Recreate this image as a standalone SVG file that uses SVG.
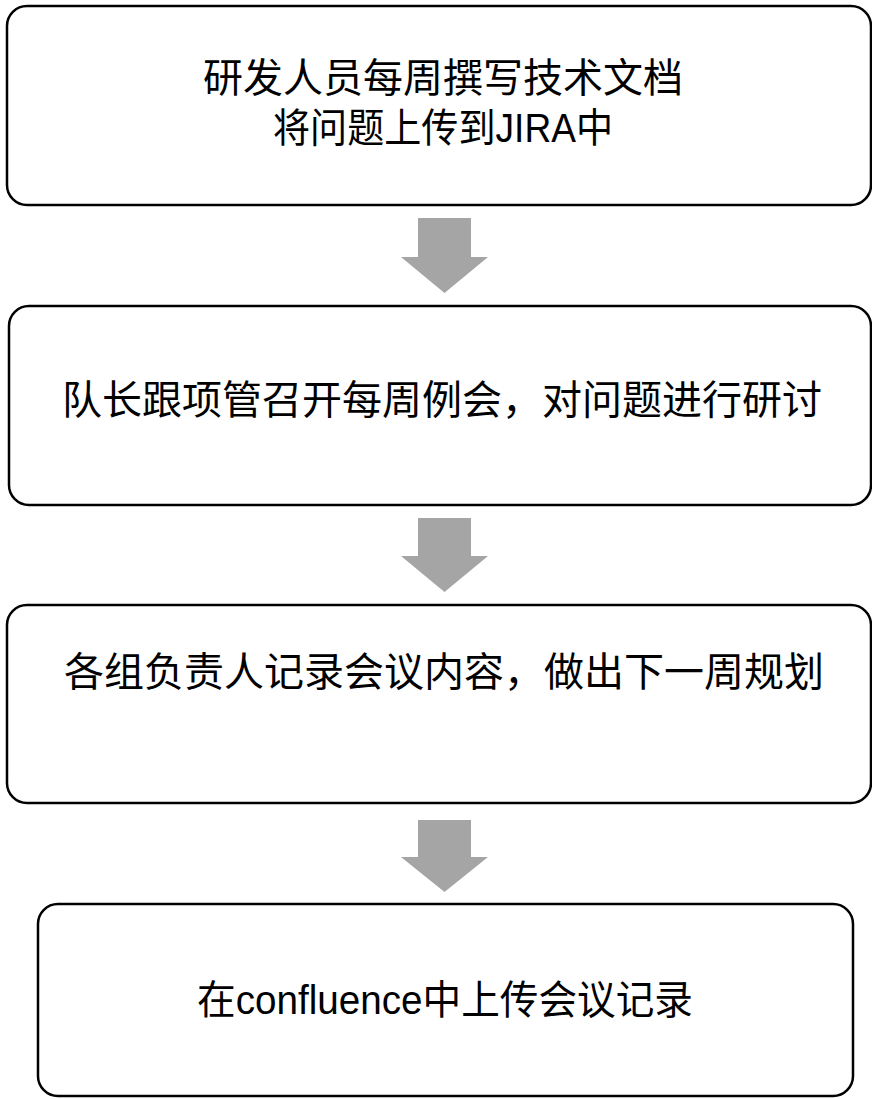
<svg xmlns="http://www.w3.org/2000/svg" width="872" height="1099" viewBox="0 0 872 1099">
<style>
.box{fill:#ffffff;stroke:#000000;stroke-width:2.5}
.t{font-family:"Liberation Sans","Noto Sans CJK SC",sans-serif;font-size:40px;fill:#000000;text-anchor:middle}
.arr{fill:#a5a5a5}
</style>
<rect width="872" height="1099" fill="#ffffff"/>
<g id="node1">
<rect class="box" x="7" y="6" width="864" height="199" rx="20" ry="20"/>
<text class="t" x="443" y="92">研发人员每周撰写技术文档</text>
<text class="t" x="443" y="142" textLength="340" lengthAdjust="spacingAndGlyphs">将问题上传到JIRA中</text>
</g>
<g id="node2">
<rect class="box" x="9" y="306" width="862" height="199" rx="20" ry="20"/>
<text class="t" x="442" y="414">队长跟项管召开每周例会，对问题进行研讨</text>
</g>
<g id="node3">
<rect class="box" x="7" y="605" width="864" height="198" rx="20" ry="20"/>
<text class="t" x="444" y="686">各组负责人记录会议内容，做出下一周规划</text>
</g>
<g id="node4">
<rect class="box" x="38" y="904" width="815" height="192" rx="20" ry="20"/>
<text class="t" x="445" y="1014" textLength="496" lengthAdjust="spacingAndGlyphs">在confluence中上传会议记录</text>
</g>
<g id="connectors">
<polygon class="arr" points="418,218 471,218 471,257 488,257 444.5,293 401,257 418,257"/>
<polygon class="arr" points="418,518 471,518 471,556 488,556 444.5,592 401,556 418,556"/>
<polygon class="arr" points="418,820 471,820 471,857 488,857 444.5,892 401,857 418,857"/>
</g>
</svg>
